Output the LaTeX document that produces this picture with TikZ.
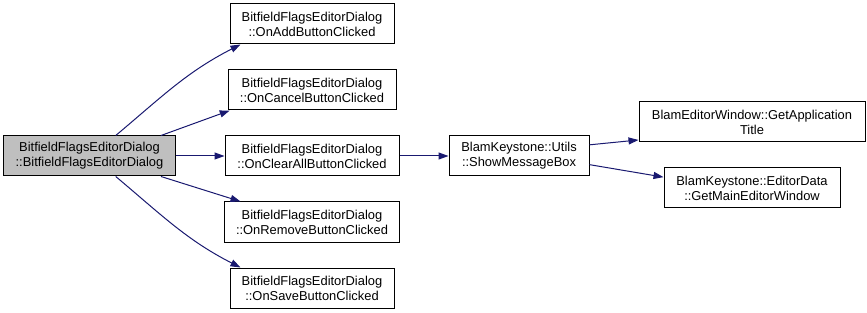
\documentclass[tikz,border=0pt]{standalone}
\usepackage{fontspec}
\setmainfont{Liberation Sans}
\usetikzlibrary{arrows.meta, positioning}
\definecolor{edgeBlue}{HTML}{191970}
\definecolor{rootGray}{HTML}{BFBFBF}

\begin{document}
\begin{tikzpicture}[
    x=1pt, y=1pt,
    node distance=25pt,
    box/.style={draw, line width=1pt, minimum height=40pt, inner xsep=0pt, inner ysep=2pt, align=center, font=\fontsize{12.9}{15}\selectfont},
    call/.style={draw=edgeBlue, line width=1pt, -{Triangle[length=10pt,width=7pt,fill=edgeBlue]}},
]
    \useasboundingbox (-89.5,156) rectangle (777.5,-157);

    \node[box, fill=rootGray, minimum width=171pt] (root) at (0,0) {BitfieldFlagsEditorDialog\\::BitfieldFlagsEditorDialog};
    \node[box, minimum width=174pt, right=49pt of root] (clear) {BitfieldFlagsEditorDialog\\::OnClearAllButtonClicked};
    \node[box, minimum width=168pt, above=25pt of clear] (cancel) {BitfieldFlagsEditorDialog\\::OnCancelButtonClicked};
    \node[box, minimum width=164pt, above=25pt of cancel] (add) {BitfieldFlagsEditorDialog\\::OnAddButtonClicked};
    \node[box, minimum width=175pt, below=25pt of clear] (remove) {BitfieldFlagsEditorDialog\\::OnRemoveButtonClicked};
    \node[box, minimum width=164pt, below=25pt of remove] (save) {BitfieldFlagsEditorDialog\\::OnSaveButtonClicked};

    \node[box, minimum width=140pt, right=49pt of clear] (msgbox) {BlamKeystone::Utils\\::ShowMessageBox};
    \node[box, minimum width=226pt, right=49pt of msgbox, yshift=34pt] (title) {BlamEditorWindow::GetApplication\\Title};
    \node[box, minimum width=176pt, below=25pt of title] (mainwin) {BlamKeystone::EditorData\\::GetMainEditorWindow};

    % calls from the constructor
    \draw[call] (root.38) to[out=40, in=207] (add.196);
    \draw[call] (root.16) -- (cancel.194);
    \draw[call] (root.east) -- (clear.west);
    \draw[call] (root.-16) -- (remove.164);
    \draw[call] (root.-38) to[out=-40, in=153] (save.164);

    \draw[call] (clear.east) -- (msgbox.west);
    \draw[call] (msgbox.9) -- (title.189);
    \draw[call] (msgbox.-7) -- (mainwin.173);
\end{tikzpicture}
\end{document}
